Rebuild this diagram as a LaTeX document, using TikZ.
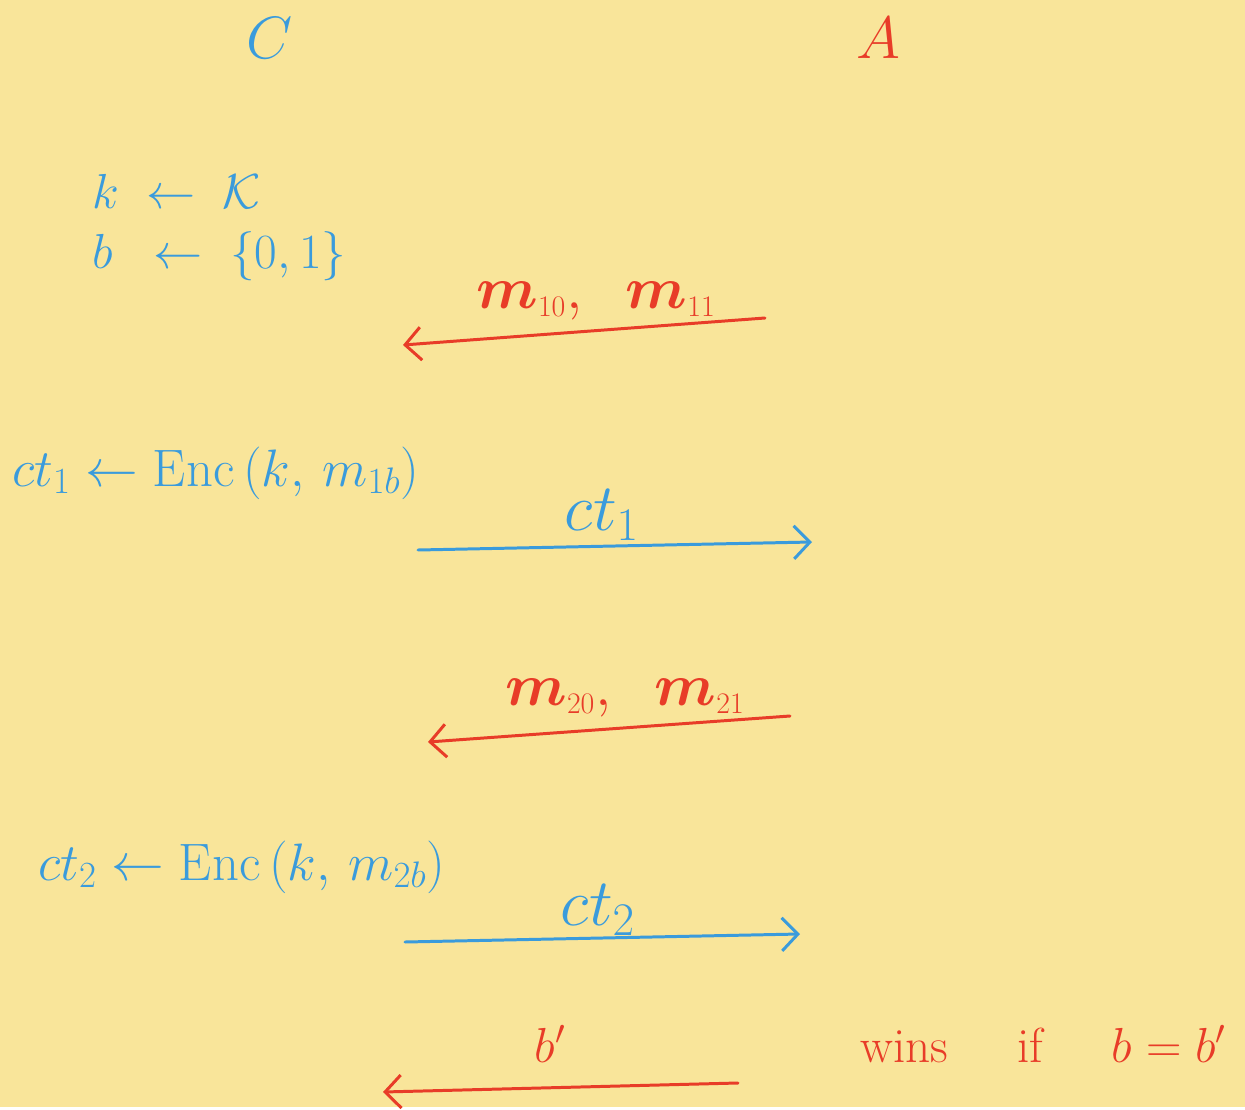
\documentclass[tikz,border=0pt]{standalone}
\usepackage{fix-cm}
\usepackage{fontspec}
\usepackage{amsmath}
\usetikzlibrary{arrows.meta}
\definecolor{padyellow}{RGB}{249,229,154}
\definecolor{penblue}{RGB}{58,155,220}
\definecolor{penred}{RGB}{232,60,40}
\begin{document}
\begin{tikzpicture}[x=0.02cm,y=-0.02cm,
    bluetext/.style={text=penblue,font=\fontsize{28}{34}\selectfont,inner sep=0pt},
    redtext/.style={text=penred,font=\fontsize{28}{34}\selectfont,inner sep=0pt},
    toadv/.style={draw=penblue,line width=1.7pt,line cap=round,-{Straight Barb[length=0.32cm,width=0.66cm]}},
    tochal/.style={draw=penred,line width=1.7pt,line cap=round,-{Straight Barb[length=0.32cm,width=0.66cm]}}]
  \fill[padyellow] (0,0) rectangle (1245,1107);
  % parties
  \node[bluetext,font=\fontsize{34}{40}\selectfont,anchor=base] (chal) at (270,58) {$C$};
  \node[redtext,font=\fontsize{34}{40}\selectfont,anchor=base] (adv) at (878,58) {$A$};
  % setup
  \node[bluetext,anchor=base west] (keygen) at (92,208) {$k\;\leftarrow\;\mathcal{K}$};
  \node[bluetext,anchor=base west] (bitgen) at (92,268) {$b\;\;\leftarrow\;\{0,1\}$};
  % first query
  \coordinate (q1s) at (765,318);
  \coordinate (q1e) at (403,345);
  \draw[tochal] (q1s) -- (q1e);
  \node[redtext,font=\fontsize{34}{40}\selectfont,anchor=base] (q1) at (596,308) {$\boldsymbol{m}_{\scriptscriptstyle 10},\;\;\boldsymbol{m}_{\scriptscriptstyle 11}$};
  \node[bluetext,font=\fontsize{30}{36}\selectfont,anchor=base west] (enc1) at (12,486) {$ct_1\leftarrow\mathrm{Enc}\,(k,\,m_{1b})$};
  \coordinate (c1s) at (418,550);
  \coordinate (c1e) at (812,542);
  \draw[toadv] (c1s) -- (c1e);
  \node[bluetext,font=\fontsize{38}{44}\selectfont,anchor=base] (ct1) at (602,530) {$ct_1$};
  % second query
  \coordinate (q2s) at (790,716);
  \coordinate (q2e) at (428,742);
  \draw[tochal] (q2s) -- (q2e);
  \node[redtext,font=\fontsize{34}{40}\selectfont,anchor=base] (q2) at (625,705) {$\boldsymbol{m}_{\scriptscriptstyle 20},\;\;\boldsymbol{m}_{\scriptscriptstyle 21}$};
  \node[bluetext,font=\fontsize{30}{36}\selectfont,anchor=base west] (enc2) at (38,880) {$ct_2\leftarrow\mathrm{Enc}\,(k,\,m_{2b})$};
  \coordinate (c2s) at (405,942);
  \coordinate (c2e) at (800,934);
  \draw[toadv] (c2s) -- (c2e);
  \node[bluetext,font=\fontsize{38}{44}\selectfont,anchor=base] (ct2) at (598,925) {$ct_2$};
  % guess
  \coordinate (gs) at (738,1083);
  \coordinate (ge) at (383,1092);
  \draw[tochal] (gs) -- (ge);
  \node[redtext,anchor=base] (guess) at (550,1062) {$b'$};
  \node[redtext,anchor=base west] (win) at (860,1062) {wins\hspace{1.4em}if\hspace{1.4em}$b=b'$};
\end{tikzpicture}
\end{document}
